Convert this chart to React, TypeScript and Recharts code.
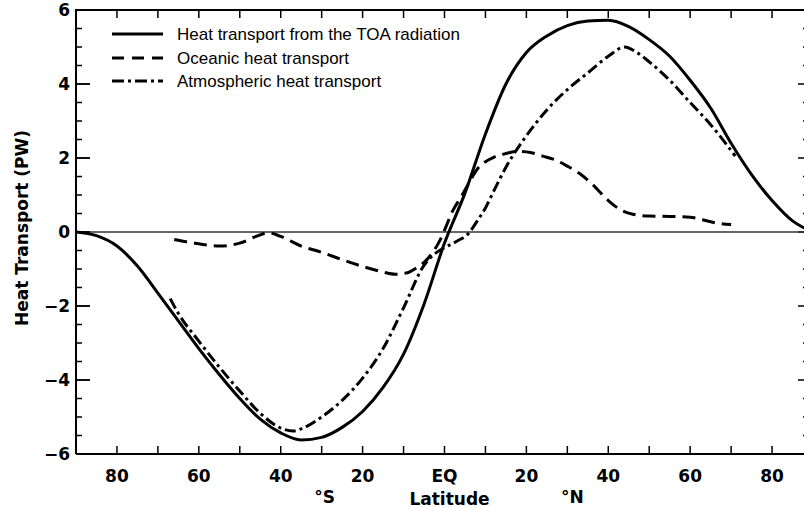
import React from 'react';
import { LineChart, Line, XAxis, YAxis, ReferenceLine, Customized } from 'recharts';

// ---- data ----
const toaLat = [-90,-85,-80,-75,-70,-65,-60,-55,-50,-45,-40,-35,-30,-25,-20,-15,-10,-5,0,5,10,15,20,25,30,35,40,45,50,55,60,65,70,75,80,85,90];
const toaVal = [0,-0.1,-0.38,-0.92,-1.65,-2.4,-3.15,-3.85,-4.5,-5.06,-5.43,-5.62,-5.55,-5.28,-4.85,-4.2,-3.3,-1.95,-0.3,1.05,2.65,4.0,4.85,5.3,5.58,5.7,5.72,5.55,5.2,4.75,4.1,3.35,2.4,1.55,0.85,0.3,0];

const oceLat = [-66,-60,-55,-50,-46,-43,-40,-35,-30,-25,-20,-15,-12,-9,-7,-5,-3,-1,0,2,4,6,8,10,12,15,18,21,24,27,30,33,36,40,43,46,50,55,60,63,66,70];
const oceVal = [-0.2,-0.32,-0.38,-0.3,-0.12,-0.02,-0.12,-0.38,-0.55,-0.75,-0.93,-1.08,-1.14,-1.1,-0.98,-0.82,-0.57,-0.2,0.05,0.57,0.94,1.33,1.7,1.9,2.02,2.12,2.18,2.15,2.05,1.95,1.78,1.58,1.3,0.85,0.6,0.48,0.43,0.42,0.4,0.33,0.25,0.2];

const atmLat = [-67,-65,-60,-55,-50,-45,-40,-37,-35,-30,-25,-20,-15,-10,-5,-2.5,0,3,6,8,10,12,15,20,25,30,35,40,44,47,50,55,60,65,70,71];
const atmVal = [-1.8,-2.2,-2.95,-3.65,-4.3,-4.9,-5.3,-5.38,-5.32,-5.0,-4.55,-3.95,-3.15,-2.05,-0.9,-0.6,-0.42,-0.25,-0.02,0.3,0.65,1.1,1.75,2.6,3.3,3.85,4.3,4.75,5.0,4.85,4.6,4.1,3.5,2.9,2.2,2.05];

const xTicks = [-80,-70,-60,-50,-40,-30,-20,-10,0,10,20,30,40,50,60,70,80];
const yMajorTicks = [-6,-4,-2,0,2,4,6];
const yMinorTicks = [-5.5,-5,-4.5,-3.5,-3,-2.5,-1.5,-1,-0.5,0.5,1,1.5,2.5,3,3.5,4.5,5,5.5];

const seriesNames = ['Heat transport from the TOA radiation', 'Oceanic heat transport', 'Atmospheric heat transport'];
const yAxisTitle = 'Heat Transport (PW)';
const xAxisTitle = 'Latitude';

const X_MIN = -90, X_MAX = 90, Y_MIN = -6, Y_MAX = 6;

const toaData = toaLat.map((lat, i) => ({ lat, v: toaVal[i] }));
const oceData = oceLat.map((lat, i) => ({ lat, v: oceVal[i] }));
const atmData = atmLat.map((lat, i) => ({ lat, v: atmVal[i] }));

// ---- layout ----
const CHART_W = 814, CHART_H = 508;
const MARGIN = { top: 10, right: 1, bottom: 0, left: 0 };
const Y_AXIS_W = 76, X_AXIS_H = 54;
const PLOT_L = MARGIN.left + Y_AXIS_W;
const PLOT_T = MARGIN.top;
const PLOT_W = CHART_W - MARGIN.right - PLOT_L;
const PLOT_H = CHART_H - MARGIN.bottom - X_AXIS_H - PLOT_T;
const px = (v: number) => PLOT_L + ((v - X_MIN) / (X_MAX - X_MIN)) * PLOT_W;
const py = (v: number) => PLOT_T + ((Y_MAX - v) / (Y_MAX - Y_MIN)) * PLOT_H;

const AXIS_FONT = '"DejaVu Sans", sans-serif';
const LEG_FONT = '"Liberation Sans", Arial, sans-serif';
const DASH = '13 7';
const DASHDOT = '11 4 3 4';
const tStyle = { fontFamily: AXIS_FONT, fontWeight: 700, fontSize: 17, fill: '#000' } as any;

const BottomTick = (props: any) => {
  const { x, y, payload } = props;
  const v = payload.value;
  const label = v % 20 === 0 ? (v === 0 ? 'EQ' : String(Math.abs(v))) : '';
  return (
    <g>
      {label && <text x={x} y={y + 20} textAnchor="middle" style={tStyle}>{label}</text>}
      {v === -30 && <text x={x + 3} y={y + 41} textAnchor="middle" style={tStyle}>°S</text>}
      {v === 30 && <text x={x + 5} y={y + 41} textAnchor="middle" style={tStyle}>°N</text>}
      {v === 0 && <text x={x + 5} y={y + 43} textAnchor="middle" style={tStyle}>{xAxisTitle}</text>}
    </g>
  );
};

const LeftTick = (props: any) => {
  const { x, y, payload } = props;
  const v = payload.value;
  const label = v < 0 ? '\u2212' + Math.abs(v) : String(v);
  return (
    <g>
      <text x={x} y={y + 6} textAnchor="end" style={tStyle}>{label}</text>
      {v === 0 && (
        <text x={28} y={228} textAnchor="middle" transform="rotate(-90, 28, 228)" style={tStyle}>{yAxisTitle}</text>
      )}
    </g>
  );
};

// frame (top / left / right edges) and their inward ticks
const FrameBox = () => {
  const s = { stroke: '#000', strokeWidth: 1.5 };
  const L = px(X_MIN), R = px(X_MAX), T = py(Y_MAX), B = py(Y_MIN);
  return (
    <g>
      <path d={`M${L},${B}V${T}H${R}V${B}`} fill="none" stroke="#000" strokeWidth={2} />
      {xTicks.map((t) => <path key={'t' + t} d={`M${px(t)},${T}V${T + 8}`} {...s} />)}
      {yMajorTicks.map((t) => <path key={'lM' + t} d={`M${L},${py(t)}H${L + 14}`} {...s} />)}
      {yMinorTicks.map((t) => <path key={'lm' + t} d={`M${L},${py(t)}H${L + 6}`} {...s} />)}
      {yMajorTicks.map((t) => <path key={'rM' + t} d={`M${R},${py(t)}H${R - 15}`} {...s} />)}
      {yMinorTicks.map((t) => <path key={'rm' + t} d={`M${R},${py(t)}H${R - 10}`} {...s} />)}
    </g>
  );
};

const LegendBox = () => {
  const rows = [
    { y: 34, dash: undefined },
    { y: 58, dash: '12 8' },
    { y: 81, dash: '12 4 3 4' },
  ];
  return (
    <g>
      {rows.map((r, i) => (
        <g key={i}>
          <line x1={112} x2={163} y1={r.y} y2={r.y} stroke="#000" strokeWidth={3} strokeDasharray={r.dash} />
          <text x={177} y={r.y + 6} style={{ fontFamily: LEG_FONT, fontSize: 17, fill: '#000' } as any}>{seriesNames[i]}</text>
        </g>
      ))}
    </g>
  );
};

const tl = { stroke: '#000', strokeWidth: 1.5 };
const al = { stroke: '#000', strokeWidth: 2 };
const ax = { xAxisId: 'bottom', yAxisId: 'left' };

export default function App() {
  return (
    <div style={{ position: 'absolute', left: 0, top: 0, width: 804, height: 508, overflow: 'hidden', background: '#fff' }}>
      <LineChart width={CHART_W} height={CHART_H} margin={MARGIN}>
        <XAxis xAxisId="bottom" dataKey="lat" type="number" domain={[X_MIN, X_MAX]} ticks={xTicks} interval={0}
          allowDataOverflow height={X_AXIS_H} tickSize={-8} tickMargin={16} tickLine={tl}
          axisLine={al} tick={<BottomTick />} />
        <YAxis yAxisId="left" type="number" domain={[Y_MIN, Y_MAX]} ticks={yMajorTicks} interval={0} allowDataOverflow
          width={Y_AXIS_W} tickSize={-14} tickMargin={20} tickLine={tl}
          axisLine={al} tick={<LeftTick />} />
        <ReferenceLine {...ax} y={0} stroke="#333" strokeWidth={1.5} />
        <Line {...ax} data={toaData} dataKey="v" type="monotone" stroke="#000" strokeWidth={3}
          dot={false} activeDot={false} isAnimationActive={false} />
        <Line {...ax} data={oceData} dataKey="v" type="monotone" stroke="#000" strokeWidth={3}
          strokeDasharray={DASH} dot={false} activeDot={false} isAnimationActive={false} />
        <Line {...ax} data={atmData} dataKey="v" type="monotone" stroke="#000" strokeWidth={3}
          strokeDasharray={DASHDOT} dot={false} activeDot={false} isAnimationActive={false} />
        <Customized component={<FrameBox />} />
        <Customized component={<LegendBox />} />
      </LineChart>
    </div>
  );
}
